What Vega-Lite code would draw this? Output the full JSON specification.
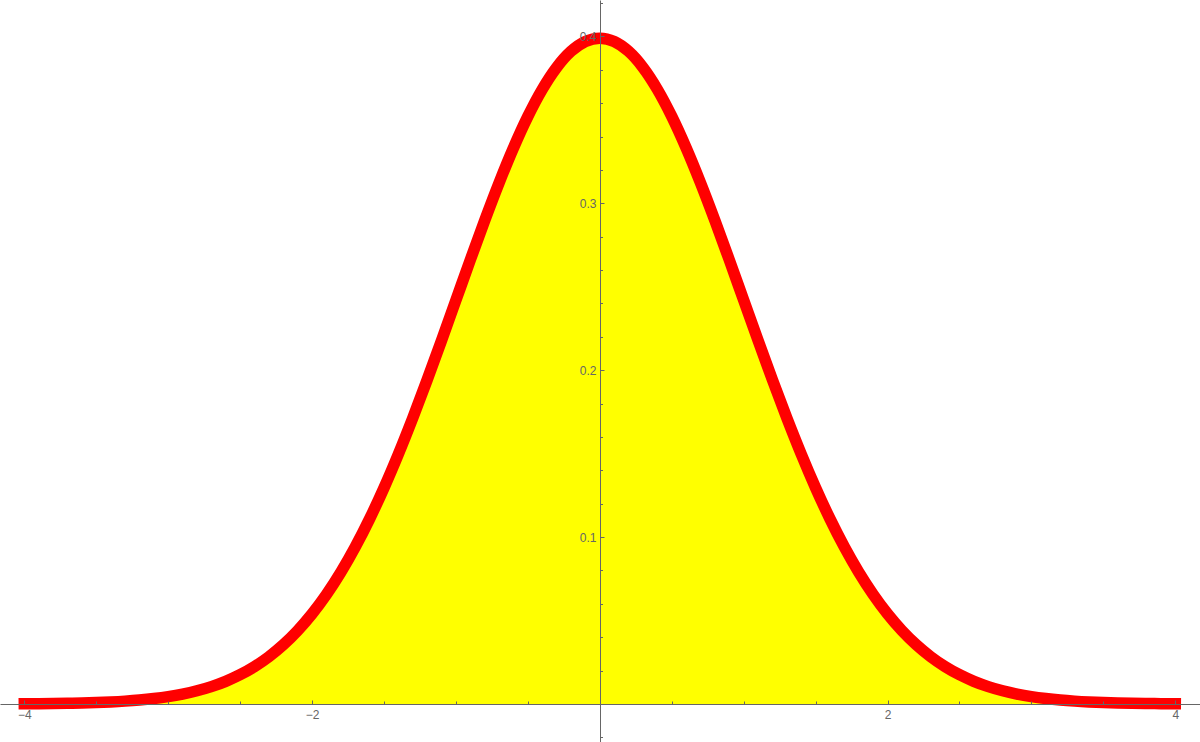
{
  "$schema": "https://vega.github.io/schema/vega-lite/v6.json",
  "width": 1200,
  "height": 742,
  "padding": 0,
  "autosize": {"type": "none"},
  "background": "white",
  "config": {"view": {"stroke": null}},
  "data": {"values": [
    {"x": -4.0, "y": 0.00013}, {"x": -3.9, "y": 0.00020}, {"x": -3.8, "y": 0.00029}, {"x": -3.7, "y": 0.00042},
    {"x": -3.6, "y": 0.00061}, {"x": -3.5, "y": 0.00087}, {"x": -3.4, "y": 0.00123}, {"x": -3.3, "y": 0.00172},
    {"x": -3.2, "y": 0.00238}, {"x": -3.1, "y": 0.00327}, {"x": -3.0, "y": 0.00443}, {"x": -2.9, "y": 0.00595},
    {"x": -2.8, "y": 0.00792}, {"x": -2.7, "y": 0.01042}, {"x": -2.6, "y": 0.01358}, {"x": -2.5, "y": 0.01753},
    {"x": -2.4, "y": 0.02239}, {"x": -2.3, "y": 0.02833}, {"x": -2.2, "y": 0.03547}, {"x": -2.1, "y": 0.04398},
    {"x": -2.0, "y": 0.05399}, {"x": -1.9, "y": 0.06562}, {"x": -1.8, "y": 0.07895}, {"x": -1.7, "y": 0.09405},
    {"x": -1.6, "y": 0.11092}, {"x": -1.5, "y": 0.12952}, {"x": -1.4, "y": 0.14973}, {"x": -1.3, "y": 0.17137},
    {"x": -1.2, "y": 0.19419}, {"x": -1.1, "y": 0.21785}, {"x": -1.0, "y": 0.24197}, {"x": -0.9, "y": 0.26609},
    {"x": -0.8, "y": 0.28969}, {"x": -0.7, "y": 0.31225}, {"x": -0.6, "y": 0.33322}, {"x": -0.5, "y": 0.35207},
    {"x": -0.4, "y": 0.36827}, {"x": -0.3, "y": 0.38139}, {"x": -0.2, "y": 0.39104}, {"x": -0.1, "y": 0.39695},
    {"x": 0.0, "y": 0.39894},
    {"x": 0.1, "y": 0.39695}, {"x": 0.2, "y": 0.39104}, {"x": 0.3, "y": 0.38139}, {"x": 0.4, "y": 0.36827},
    {"x": 0.5, "y": 0.35207}, {"x": 0.6, "y": 0.33322}, {"x": 0.7, "y": 0.31225}, {"x": 0.8, "y": 0.28969},
    {"x": 0.9, "y": 0.26609}, {"x": 1.0, "y": 0.24197}, {"x": 1.1, "y": 0.21785}, {"x": 1.2, "y": 0.19419},
    {"x": 1.3, "y": 0.17137}, {"x": 1.4, "y": 0.14973}, {"x": 1.5, "y": 0.12952}, {"x": 1.6, "y": 0.11092},
    {"x": 1.7, "y": 0.09405}, {"x": 1.8, "y": 0.07895}, {"x": 1.9, "y": 0.06562}, {"x": 2.0, "y": 0.05399},
    {"x": 2.1, "y": 0.04398}, {"x": 2.2, "y": 0.03547}, {"x": 2.3, "y": 0.02833}, {"x": 2.4, "y": 0.02239},
    {"x": 2.5, "y": 0.01753}, {"x": 2.6, "y": 0.01358}, {"x": 2.7, "y": 0.01042}, {"x": 2.8, "y": 0.00792},
    {"x": 2.9, "y": 0.00595}, {"x": 3.0, "y": 0.00443}, {"x": 3.1, "y": 0.00327}, {"x": 3.2, "y": 0.00238},
    {"x": 3.3, "y": 0.00172}, {"x": 3.4, "y": 0.00123}, {"x": 3.5, "y": 0.00087}, {"x": 3.6, "y": 0.00061},
    {"x": 3.7, "y": 0.00042}, {"x": 3.8, "y": 0.00029}, {"x": 3.9, "y": 0.00020}, {"x": 4.0, "y": 0.00013}
  ]},
  "encoding": {
    "x": {
      "field": "x", "type": "quantitative",
      "scale": {"domain": [-4.1689, 4.1717], "nice": false, "zero": false},
      "axis": {
        "orient": "bottom", "offset": -38, "title": null, "grid": false,
        "values": [-4, -3.5, -3, -2.5, -2, -1.5, -1, -0.5, 0.5, 1, 1.5, 2, 2.5, 3, 3.5, 4],
        "domainColor": "#666666", "domainWidth": 1,
        "tickColor": "#666666", "tickWidth": 1,
        "tickSize": {"condition": {"test": "datum.value % 2 === 0", "value": -4}, "value": -3},
        "labelExpr": "datum.value % 2 === 0 ? format(datum.value, 'd') : ''",
        "labelColor": "#666666", "labelFontSize": 12, "labelFont": "Liberation Sans",
        "labelPadding": 9, "labelOverlap": false, "labelFlush": false, "labelBound": false,
        "zindex": 1
      }
    },
    "y": {
      "field": "y", "type": "quantitative",
      "scale": {"domain": [-0.022768, 0.42181], "nice": false, "zero": false},
      "axis": {
        "orient": "left", "offset": -600, "title": null, "grid": false,
        "values": [-0.02, 0.02, 0.04, 0.06, 0.08, 0.1, 0.12, 0.14, 0.16, 0.18, 0.2, 0.22, 0.24, 0.26, 0.28, 0.3, 0.32, 0.34, 0.36, 0.38, 0.4, 0.42],
        "domainColor": "#666666", "domainWidth": 1,
        "tickColor": "#666666", "tickWidth": 1,
        "tickSize": {"condition": {"test": "round(datum.value * 100) % 10 === 0", "value": -4}, "value": -2.5},
        "labelExpr": "round(datum.value * 100) % 10 === 0 ? format(datum.value, '.1f') : ''",
        "labelColor": "#666666", "labelFontSize": 12, "labelFont": "Liberation Sans",
        "labelPadding": 8, "labelOverlap": false, "labelFlush": false, "labelBound": false,
        "zindex": 1
      }
    }
  },
  "layer": [
    {"mark": {"type": "area", "color": "#ffff00", "interpolate": "monotone"}, "encoding": {"y2": {"datum": 0}}},
    {"mark": {"type": "line", "color": "#ff0000", "strokeWidth": 11.5, "strokeCap": "square", "interpolate": "monotone"}}
  ]
}
